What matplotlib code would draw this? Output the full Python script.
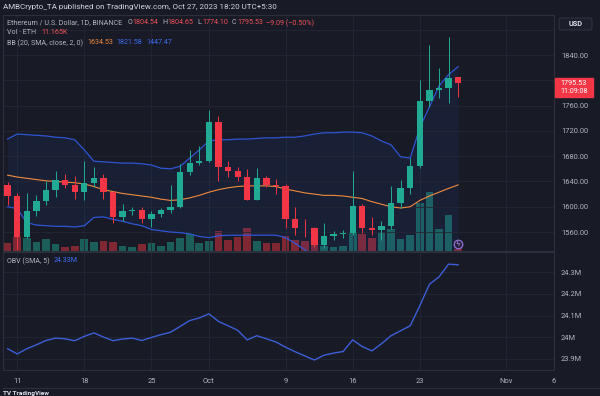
import numpy as np
import matplotlib.pyplot as plt
from matplotlib.patches import Rectangle, FancyBboxPatch

plt.rcParams['font.family'] = ['Roboto', 'DejaVu Sans']

# daily ETH/USD candles, Sep 10 .. Oct 27 2023
opens = [1635, 1617, 1552, 1593, 1609, 1627, 1642, 1635, 1623, 1638,
         1646, 1624, 1584, 1594, 1595, 1581, 1589, 1595, 1600, 1655,
         1669, 1673, 1734, 1663, 1656, 1647, 1611, 1646, 1634, 1633,
         1580, 1567, 1566, 1540, 1554, 1557, 1559, 1601, 1566, 1563,
         1569, 1606, 1630, 1665, 1767, 1785, 1788, 1804.54]
highs = [1639, 1621, 1621, 1618, 1640, 1656, 1652, 1648, 1672, 1663,
         1652, 1625, 1604, 1599, 1599, 1593, 1598, 1635, 1668, 1689,
         1696, 1753, 1744, 1673, 1663, 1660, 1662, 1648, 1644, 1636,
         1599, 1581, 1568, 1575, 1562, 1563, 1657, 1604, 1584, 1577,
         1633, 1643, 1677, 1801, 1856, 1819, 1868, 1804.65]
lows = [1603, 1531, 1550, 1585, 1603, 1615, 1630, 1612, 1611, 1631,
        1612, 1575, 1578, 1587, 1575, 1568, 1583, 1590, 1598, 1650,
        1666, 1670, 1640, 1647, 1640, 1610, 1610, 1631, 1620, 1566,
        1556, 1552, 1536, 1535, 1548, 1550, 1555, 1558, 1555, 1548,
        1565, 1598, 1620, 1662, 1758, 1772, 1764, 1774.10]
closes = [1617, 1552, 1593, 1609, 1627, 1642, 1635, 1623, 1638, 1646,
          1624, 1584, 1594, 1595, 1581, 1589, 1595, 1600, 1655, 1669,
          1673, 1734, 1663, 1656, 1647, 1611, 1646, 1634, 1633, 1580,
          1567, 1566, 1540, 1554, 1557, 1559, 1601, 1566, 1563, 1569,
          1606, 1630, 1665, 1767, 1785, 1788, 1804, 1795.53]
volumes = [42, 72, 63, 47, 58, 33, 18, 25, 60, 43,
           52, 47, 27, 18, 35, 38, 27, 43, 67, 85,
           38, 50, 100, 55, 72, 113, 52, 38, 42, 77,
           55, 52, 30, 27, 22, 27, 88, 85, 63, 97,
           108, 58, 80, 242, 293, 110, 180, 11.165]

bb_upper = [1707, 1715, 1714, 1713, 1712, 1710, 1709, 1706, 1690, 1672,
            1671, 1670, 1669, 1669, 1668, 1666, 1661, 1660, 1664, 1677,
            1690, 1704, 1706, 1706, 1707, 1707, 1708, 1709, 1709, 1710,
            1710, 1712, 1715, 1717, 1717, 1718, 1718, 1717, 1712, 1704,
            1698, 1679, 1677, 1725, 1758, 1791, 1809, 1821.58]
bb_mid = [1650, 1647, 1645, 1643, 1641, 1640, 1639, 1638, 1636, 1632,
          1627, 1624, 1621, 1619, 1617, 1615, 1612, 1610, 1611, 1614,
          1618, 1623, 1627, 1630, 1632, 1633, 1633, 1633, 1632, 1628,
          1625, 1622, 1620, 1618, 1618, 1617, 1615, 1613, 1608, 1604,
          1600, 1598, 1600, 1610, 1617, 1623, 1629, 1634.53]
bb_lower = [1600, 1597, 1575, 1571, 1570, 1569, 1569, 1568, 1570, 1583,
            1584, 1580, 1577, 1573, 1570, 1564, 1562, 1560, 1559, 1557,
            1553, 1551, 1554, 1555, 1555, 1555, 1555, 1555, 1555, 1551,
            1542, 1532, 1522, 1515, 1510, 1507, 1505, 1503, 1502, 1503,
            1503, 1502, 1500, 1495, 1476, 1455, 1449, 1447.47]

obv = [23.947, 23.923, 23.947, 23.965, 23.985, 23.996, 23.993, 23.984, 24.004, 24.020,
       24.001, 23.984, 23.992, 23.996, 23.985, 23.999, 24.012, 24.023, 24.050, 24.077,
       24.089, 24.108, 24.073, 24.053, 24.032, 23.988, 24.007, 23.993, 23.978, 23.954,
       23.933, 23.914, 23.895, 23.917, 23.927, 23.934, 23.988, 23.957, 23.937, 23.970,
       24.007, 24.030, 24.053, 24.145, 24.244, 24.278, 24.337, 24.334]

tick_days = [1, 8, 15, 21, 29, 36, 43, 52, 57]
tick_labels = ['11', '18', '25', 'Oct', '9', '16', '23', 'Nov', '6']
price_ticks = [1560, 1600, 1640, 1680, 1720, 1760, 1800, 1840, 1880]
obv_ticks = [23.9, 24.0, 24.1, 24.2, 24.3]
obv_tick_labels = ['23.9M', '24M', '24.1M', '24.2M', '24.3M']

BG = '#181b26'
GRID = '#232734'
BORDER = '#2c303c'
TXT = '#b2b5be'
UP = '#22ab94'
DOWN = '#f23645'

W, H = 600, 396
fig = plt.figure(figsize=(6, 3.96), dpi=100, facecolor=BG)


def px_axes(x0, y0, x1, y1):
    return fig.add_axes([x0 / W, 1 - y1 / H, (x1 - x0) / W, (y1 - y0) / H])


x = np.arange(len(closes))
o = np.array(opens)
c = np.array(closes)
up = c >= o
xlim = (-0.48, 57.0)

# volume pane (drawn first, under the candles)
ax_v = px_axes(3, 15, 554, 251)
ax_v.set_facecolor(BG)
ax_v.bar(x, volumes, width=0.8, color=np.where(up, UP, DOWN), alpha=0.48, lw=0)
ax_v.set_xlim(*xlim)
ax_v.set_ylim(0, 1180)
ax_v.set_xticks(tick_days)
ax_v.set_xticklabels([])
ax_v.set_yticks([])
ax_v.tick_params(length=0)
ax_v.grid(axis='x', color=GRID, lw=0.6)
for s in ax_v.spines.values():
    s.set_visible(False)

# price pane
ax = px_axes(3, 15, 554, 251)
ax.set_facecolor('none')
ax.set_xlim(*xlim)
ax.set_ylim(1530, 1903.3)
ax.set_yticks(price_ticks)
# 1800 sits under the last-price tag, 1880 under the USD box
ax.set_yticklabels(['' if p in (1800, 1880) else '%.2f' % p for p in price_ticks])
ax.yaxis.tick_right()
ax.set_xticks([])
ax.tick_params(axis='y', length=0, pad=5, labelsize=5.4, colors=TXT)
ax.grid(axis='y', color=GRID, lw=0.6)
for s in ax.spines.values():
    s.set_color(BORDER)
    s.set_linewidth(0.8)

ax.fill_between(x, bb_upper, bb_lower, color='#2962ff', alpha=0.07, lw=0)
ax.plot(x, bb_upper, color='#2f55d4', lw=0.9)
ax.plot(x, bb_lower, color='#2f55d4', lw=0.9)
ax.plot(x, bb_mid, color='#f08a3e', lw=0.8)

cols = np.where(up, UP, DOWN)
ax.vlines(x, lows, highs, colors=cols, lw=0.7, zorder=3)
body_lo = np.minimum(o, c)
body_h = np.maximum(np.abs(c - o), 0.9)
ax.bar(x, body_h, bottom=body_lo, width=0.66, color=cols, lw=0, zorder=4)

# lightning marker under the last bar
ax.scatter([x[-1]], [1541], s=38, facecolor='#2a2240', edgecolor='#8f6fd6',
           lw=0.9, zorder=5)
ax.text(x[-1], 1541, 'ϟ', color='#b79cf0', fontsize=5, ha='center',
        va='center', zorder=6, family='DejaVu Sans')

# last price tag
ytr = ax.get_yaxis_transform()
ax.add_patch(Rectangle((1.002, 1774), 0.068, 29.3, transform=ytr,
                       color='#f23645', clip_on=False, zorder=10))
ax.text(1.036, 1795.53, '1795.53', transform=ytr, ha='center', va='center',
        color='white', fontsize=5.2, clip_on=False, zorder=11)
ax.text(1.036, 1782, '11:09:08', transform=ytr, ha='center', va='center',
        color='white', fontsize=5.2, clip_on=False, zorder=11)

# OBV pane
ax_o = px_axes(3, 252, 554, 370)
ax_o.set_facecolor(BG)
ax_o.plot(x, obv, color='#3d5ed8', lw=1.0)
ax_o.set_xlim(*xlim)
ax_o.set_ylim(23.849, 24.393)
ax_o.set_yticks(obv_ticks)
ax_o.set_yticklabels(obv_tick_labels)
ax_o.yaxis.tick_right()
ax_o.set_xticks(tick_days)
ax_o.set_xticklabels(tick_labels)
ax_o.tick_params(axis='y', length=0, pad=5, labelsize=5.4, colors=TXT)
ax_o.tick_params(axis='x', length=0, pad=5.5, labelsize=5.4, colors=TXT)
ax_o.grid(color=GRID, lw=0.6)
for s in ax_o.spines.values():
    s.set_color(BORDER)
    s.set_linewidth(0.8)

# header texts
renderer = fig.canvas.get_renderer()


def row(x0, y, parts, size=5.1):
    xp = x0
    for txt, col, gap in parts:
        t = fig.text(xp / W, 1 - y / H, txt, color=col, fontsize=size,
                     va='center', ha='left')
        bb = t.get_window_extent(renderer)
        xp += bb.width + gap


fig.text(3 / W, 1 - 7 / H, 'AMBCrypto_TA published on TradingView.com, Oct 27, 2023 18:20 UTC+5:30',
         color='#d1d4dc', fontsize=5.8, va='center', ha='left')
RED = '#f0505a'
row(7, 23, [('Ethereum / U.S. Dollar, 1D, BINANCE', TXT, 5),
            ('O', TXT, 0.5), ('1804.54', RED, 4),
            ('H', TXT, 0.5), ('1804.65', RED, 4),
            ('L', TXT, 0.5), ('1774.10', RED, 4),
            ('C', TXT, 0.5), ('1795.53', RED, 3),
            ('\u22129.09 (\u22120.50%)', RED, 0)])
row(7, 33, [('Vol \u00b7 ETH', TXT, 5), ('11.165K', RED, 0)])
row(7, 43, [('BB (20, SMA, close, 2, 0)', TXT, 4), ('1634.53', '#f08a3e', 4),
            ('1821.58', '#3b6cf5', 4), ('1447.47', '#3b6cf5', 0)])
row(7, 261, [('OBV (SMA, 5)', TXT, 4), ('24.33M', '#3b6cf5', 0)])

# USD box
fig.patches.append(FancyBboxPatch((559 / W, 1 - 30 / H), 33 / W, 12 / H,
                                  boxstyle='round,pad=0,rounding_size=0.004',
                                  transform=fig.transFigure, facecolor='#1c1f2b',
                                  edgecolor='#363a45', lw=0.6))
fig.text(575.5 / W, 1 - 23.5 / H, 'USD', color='#e0e3eb', fontsize=5.3,
         fontweight='bold', ha='center', va='center')

# bottom strip
fig.add_artist(plt.Line2D([3 / W, 1], [1 - 388 / H, 1 - 388 / H],
                          transform=fig.transFigure, color=BORDER, lw=0.8))
fig.text(3 / W, 1 - 395.5 / H, 'TV TradingView', color='#e0e3eb', fontsize=4.6,
         fontweight='bold', ha='left', va='bottom')

fig.savefig('out.png', dpi=100, facecolor=BG)
